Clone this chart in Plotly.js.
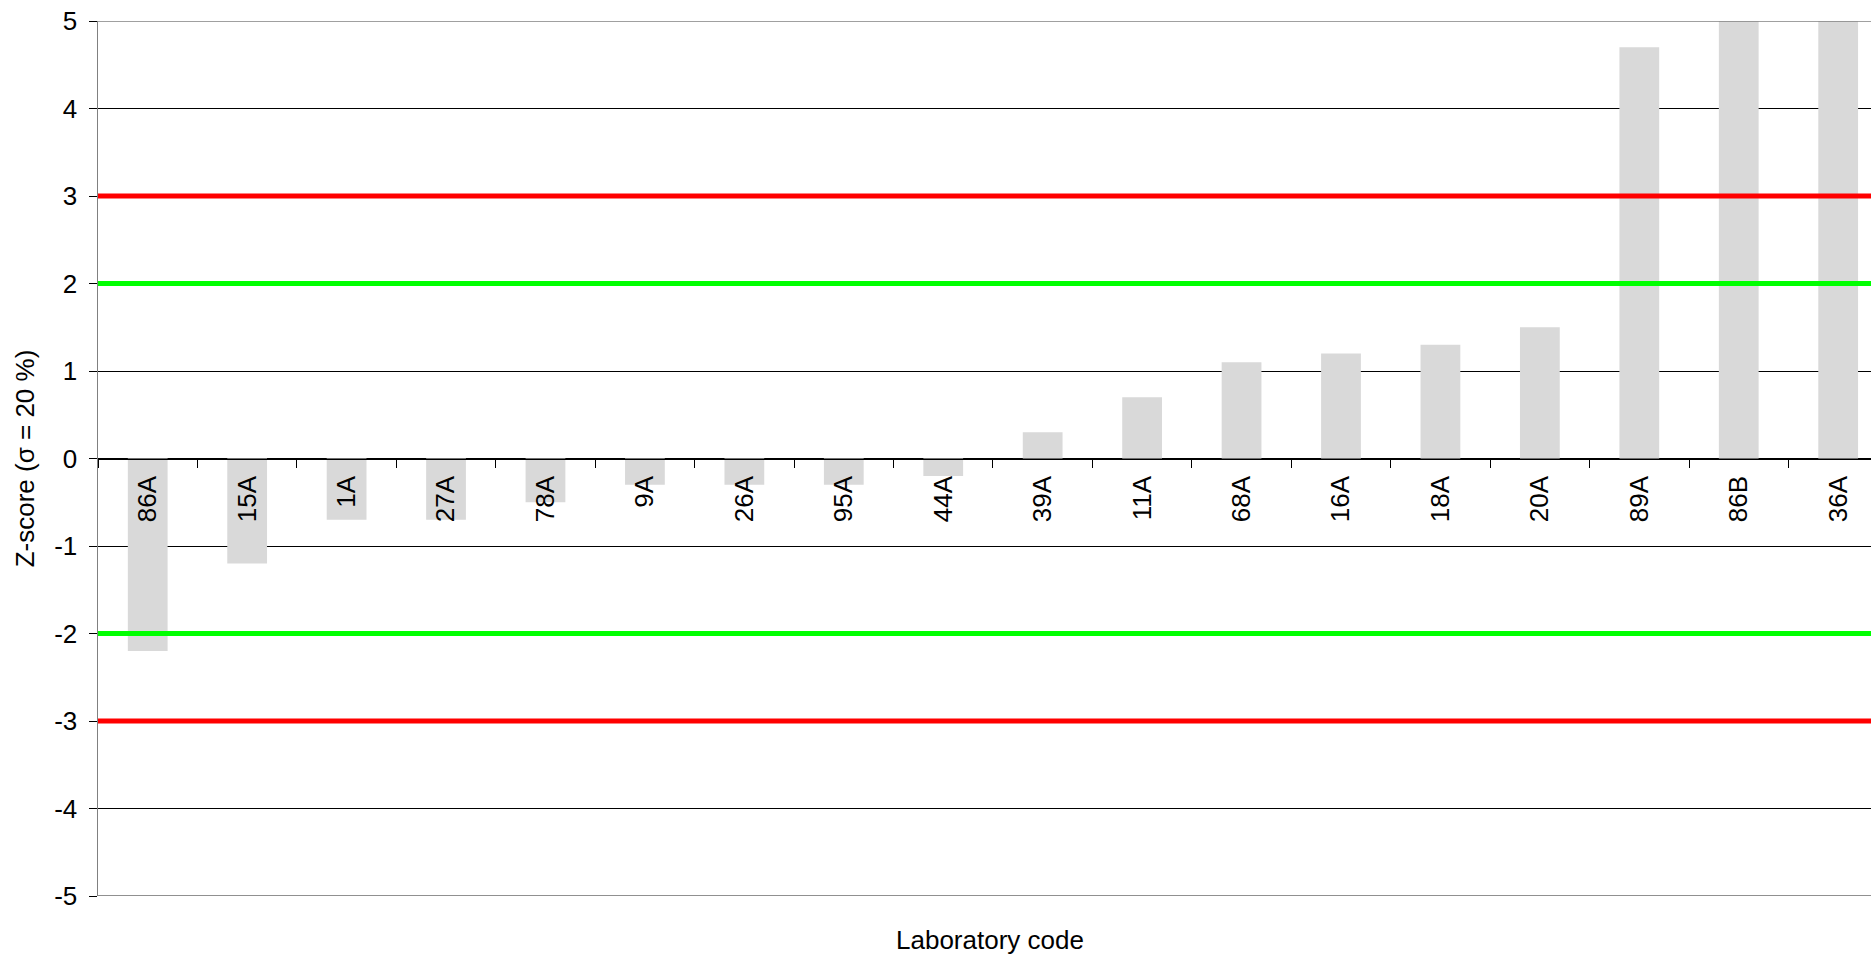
<!DOCTYPE html>
<html>
<head>
<meta charset="utf-8">
<script src="https://cdn.plot.ly/plotly-3.0.1.min.js"></script>
<style>html,body{margin:0;padding:0;background:#fff;}#chart{width:1871px;height:954px;}</style>
</head>
<body>
<div id="chart"></div>
<script>
const labCodes = ["86A","15A","1A","27A","78A","9A","26A","95A","44A","39A","11A","68A","16A","18A","20A","89A","86B","36A"];
const zScores = [-2.2,-1.2,-0.7,-0.7,-0.5,-0.3,-0.3,-0.3,-0.2,0.3,0.7,1.1,1.2,1.3,1.5,4.7,6.2,7.4];
const warningLimits = [-2, 2];
const actionLimits = [-3, 3];
const yTicks = [-5,-4,-3,-2,-1,0,1,2,3,4,5];

const font = {family: "Liberation Sans, Arial, sans-serif", size: 26, color: "#000"};

const shapes = [];
warningLimits.forEach(v => shapes.push({type:"line", xref:"paper", yref:"y", x0:0, x1:1, y0:v, y1:v, layer:"above", line:{color:"#00ff00", width:5}}));
actionLimits.forEach(v => shapes.push({type:"line", xref:"paper", yref:"y", x0:0, x1:1, y0:v, y1:v, layer:"above", line:{color:"#ff0000", width:5}}));
shapes.push({type:"line", xref:"paper", yref:"y", x0:0, x1:1, y0:yTicks[yTicks.length-1], y1:yTicks[yTicks.length-1], layer:"above", line:{color:"#808080", width:1.5}});
shapes.push({type:"line", xref:"paper", yref:"y", x0:0, x1:1, y0:yTicks[0], y1:yTicks[0], layer:"above", line:{color:"#222", width:1.2}});

const data = [{
  type: "bar",
  x: labCodes,
  y: zScores,
  width: 0.4,
  marker: {color: "#d9d9d9", line: {width: 0}},
  hoverinfo: "x+y"
}];

const layout = {
  width: 1871, height: 954,
  margin: {l: 98, r: 0, t: 21, b: 58, pad: 0},
  paper_bgcolor: "#fff", plot_bgcolor: "#fff",
  font: font,
  showlegend: false,
  xaxis: {
    type: "category",
    range: [-0.5, 17.33],
    anchor: "free",
    position: 0.5,
    showline: true, linecolor: "#000", linewidth: 1,
    ticks: "outside", ticklen: 8, tickcolor: "#000", tickwidth: 1,
    tickson: "boundaries",
    tickangle: -90,
    tickfont: font,
    ticklabelstandoff: 6,
    showgrid: false,
    zeroline: false,
    fixedrange: true
  },
  yaxis: {
    range: [-5, 5],
    tickvals: yTicks,
    ticktext: yTicks.map(String),
    showline: true, linecolor: "#808080", linewidth: 1.5,
    ticks: "outside", ticklen: 8, tickcolor: "#000", tickwidth: 1,
    showgrid: true, gridcolor: "#000", gridwidth: 1,
    zeroline: true, zerolinecolor: "#000", zerolinewidth: 1,
    tickfont: font,
    ticklabelstandoff: 6,
    title: {text: "Z-score (σ = 20 %)", font: font, standoff: 12},
    automargin: false,
    fixedrange: true
  },
  shapes: shapes,
  annotations: [{
    text: "Laboratory code", xref: "paper", yref: "paper", x: 0.503, y: 0,
    yshift: -44, xanchor: "center", yanchor: "middle", showarrow: false, font: font
  }]
};

Plotly.newPlot("chart", data, layout, {displayModeBar: false, staticPlot: true});
</script>
</body>
</html>
